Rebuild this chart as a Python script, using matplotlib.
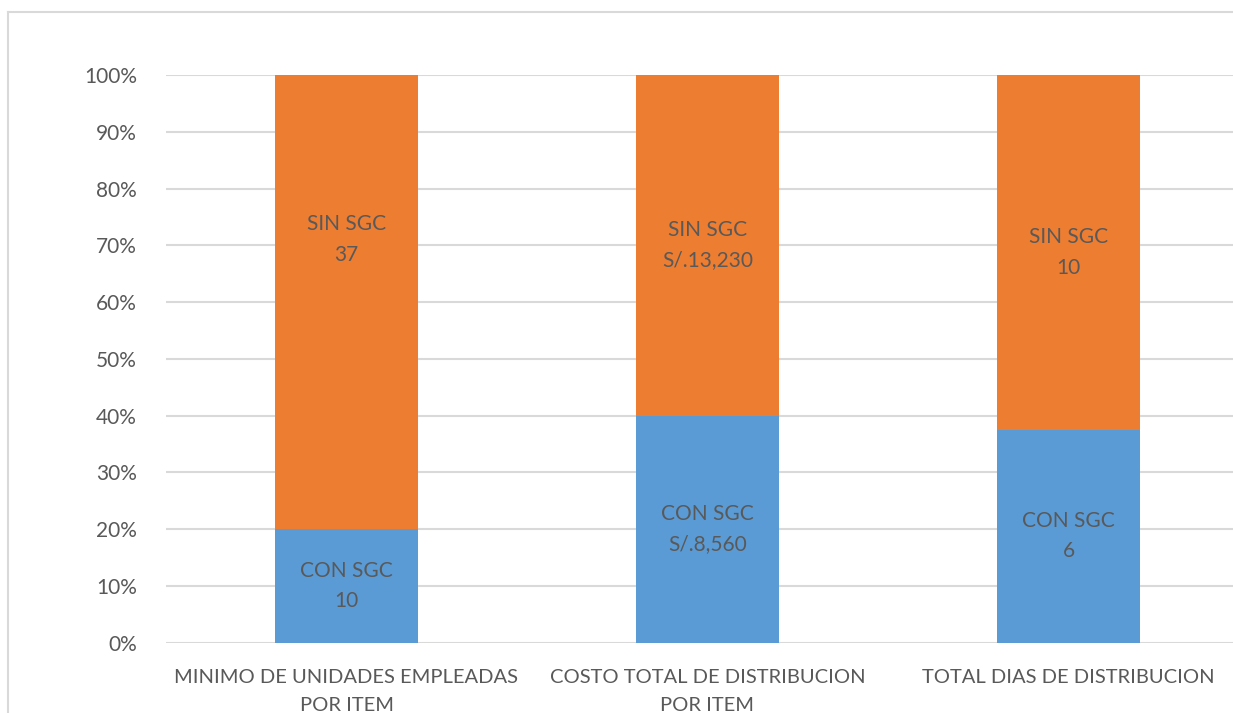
import matplotlib
matplotlib.use("Agg")
from matplotlib import pyplot as plt
from matplotlib.lines import Line2D

# Data (100% stacked)
categories = ["MINIMO DE UNIDADES EMPLEADAS\nPOR ITEM",
              "COSTO TOTAL DE DISTRIBUCION\nPOR ITEM",
              "TOTAL DIAS DE DISTRIBUCION"]
con_pct = [20, 40, 37.5]
sin_pct = [80, 60, 62.5]
con_labels = ["CON SGC\n10", "CON SGC\nS/.8,560", "CON SGC\n6"]
sin_labels = ["SIN SGC\n37", "SIN SGC\nS/.13,230", "SIN SGC\n10"]
sin_label_y = [71, 70, 68.75]  # first label was moved up in the original
yticks = [0, 10, 20, 30, 40, 50, 60, 70, 80, 90, 100]

blue = "#5B9BD5"
orange = "#ED7D31"
grey_txt = "#595959"
grid_col = "#D9D9D9"

plt.rcParams['font.family'] = ['Lato', 'DejaVu Sans']

fig = plt.figure(figsize=(12.33, 7.13), dpi=100)
ax = fig.add_axes([166 / 1233, 1 - 642.7 / 713, 1083 / 1233, 567.7 / 713])

x = range(len(categories))
ax.bar(x, con_pct, width=0.396, color=blue, zorder=3)
ax.bar(x, sin_pct, width=0.396, bottom=con_pct, color=orange, zorder=3)

for i in x:
    ax.text(i, con_pct[i] / 2, con_labels[i], ha="center", va="center",
            fontsize=15, color=grey_txt, linespacing=1.65, zorder=4)
    ax.text(i, sin_label_y[i], sin_labels[i], ha="center", va="center",
            fontsize=15, color=grey_txt, linespacing=1.65, zorder=4)

ax.set_xlim(-0.5, 2.5)
ax.set_ylim(0, 100)
ax.set_yticks(yticks)
ax.set_yticklabels([f"{t}%" for t in yticks])
ax.set_xticks(list(x))
ax.set_xticklabels(categories, linespacing=1.75)
ax.tick_params(axis="y", length=0, pad=21, labelsize=15, labelcolor=grey_txt)
ax.tick_params(axis="x", length=0, pad=19, labelsize=14.5, labelcolor=grey_txt)
ax.yaxis.grid(True, color=grid_col, linewidth=1.5, zorder=0)
for s in ax.spines.values():
    s.set_visible(False)

# outer chart frame (partially cropped in the original)
fig.add_artist(Line2D([8 / 1233, 8 / 1233], [0, 1 - 12 / 713], color=grid_col,
                      linewidth=1.5, transform=fig.transFigure))
fig.add_artist(Line2D([8 / 1233, 1], [1 - 12 / 713, 1 - 12 / 713], color=grid_col,
                      linewidth=1.5, transform=fig.transFigure))

plt.savefig("out.png", dpi=100)
plt.close()
